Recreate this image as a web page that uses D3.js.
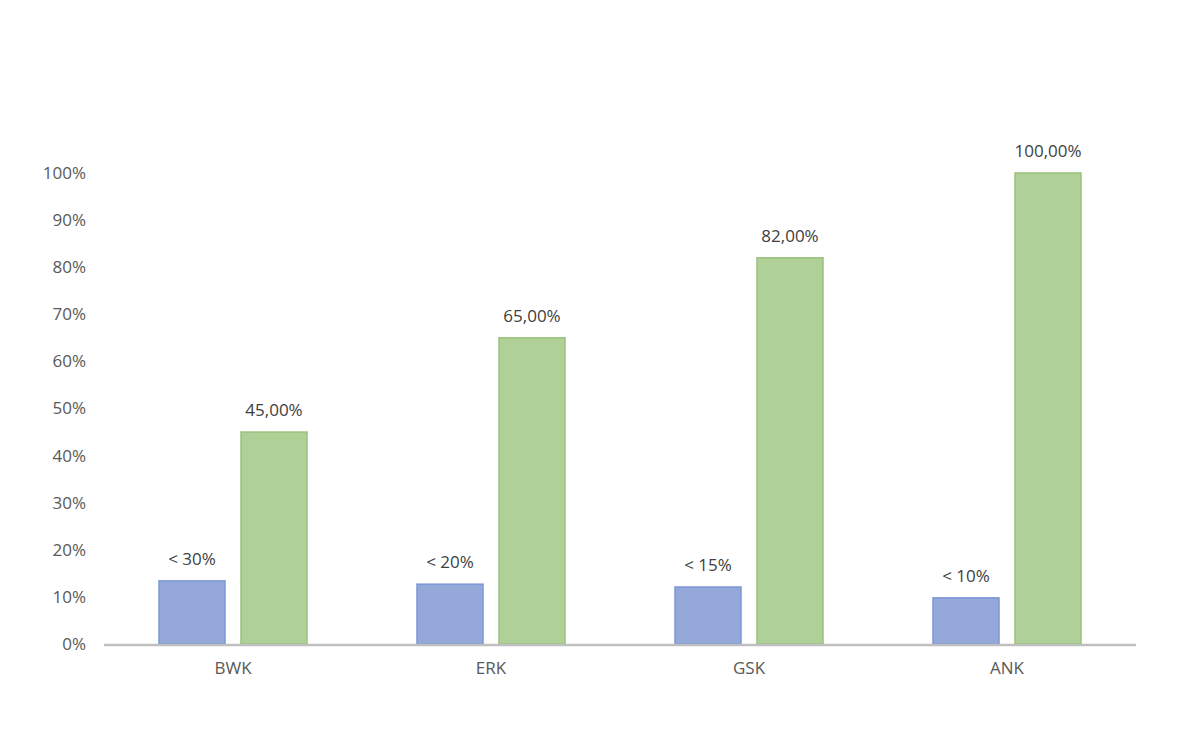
<!DOCTYPE html>
<html><head><meta charset="utf-8">
<script src="https://cdn.jsdelivr.net/npm/d3@7"></script>
<style>body{margin:0;background:#fff;font-family:"Open Sans",Calibri,sans-serif;}</style>
</head><body>
<div id="chart"></div>
<script>
const categories = ["BWK", "ERK", "GSK", "ANK"];
const blueValues = [13.4, 12.7, 12.1, 9.8];
const blueLabels = ["< 30%", "< 20%", "< 15%", "< 10%"];
const greenValues = [45, 65, 82, 100];
const greenLabels = ["45,00%", "65,00%", "82,00%", "100,00%"];
const yTicks = [0, 10, 20, 30, 40, 50, 60, 70, 80, 90, 100];

const W = 1181, H = 738;
const svg = d3.select("#chart").append("svg").attr("width", W).attr("height", H);

const x = d3.scaleBand().domain(categories).range([104, 1136]);
const y = d3.scaleLinear().domain([0, 100]).range([644, 173]);
const barW = 66, gap = 16;

// y labels
svg.append("g")
  .attr("transform", "translate(86,0)")
  .call(d3.axisLeft(y).tickValues(yTicks).tickFormat(d => d + "%").tickSize(0))
  .call(g => g.select(".domain").remove())
  .selectAll("text").attr("font-size", 17).attr("fill", "#595959")
  .attr("font-family", "'Open Sans', sans-serif").attr("x", 0);

// x labels
svg.append("g")
  .attr("transform", "translate(0,644)")
  .call(d3.axisBottom(x).tickSize(0).tickPadding(18))
  .call(g => g.select(".domain").remove())
  .selectAll("text").attr("font-size", 17).attr("fill", "#595959")
  .attr("font-family", "'Open Sans', sans-serif");

const cx = c => x(c) + x.bandwidth() / 2;

svg.selectAll(".blue").data(categories).enter().append("rect")
  .attr("x", c => cx(c) - gap / 2 - barW)
  .attr("y", (c, i) => y(blueValues[i]))
  .attr("width", barW)
  .attr("height", (c, i) => y(0) - y(blueValues[i]))
  .attr("fill", "#94a9d9").attr("stroke", "#7b97d6").attr("stroke-width", 1.5);

svg.selectAll(".green").data(categories).enter().append("rect")
  .attr("x", c => cx(c) + gap / 2)
  .attr("y", (c, i) => y(greenValues[i]))
  .attr("width", barW)
  .attr("height", (c, i) => y(0) - y(greenValues[i]))
  .attr("fill", "#afd096").attr("stroke", "#99c27c").attr("stroke-width", 1.5);

svg.selectAll(".bl").data(categories).enter().append("text")
  .attr("x", c => cx(c) - gap / 2 - barW / 2)
  .attr("y", (c, i) => y(blueValues[i]) - 16)
  .attr("text-anchor", "middle").attr("font-size", 17).attr("fill", "#404040")
  .text((c, i) => blueLabels[i]);

svg.selectAll(".gl").data(categories).enter().append("text")
  .attr("x", c => cx(c) + gap / 2 + barW / 2)
  .attr("y", (c, i) => y(greenValues[i]) - 16)
  .attr("text-anchor", "middle").attr("font-size", 17).attr("fill", "#404040")
  .text((c, i) => greenLabels[i]);

// baseline
svg.append("line").attr("x1", 104).attr("x2", 1136).attr("y1", 645).attr("y2", 645)
  .attr("stroke", "#bfbfbf").attr("stroke-width", 2.5);
</script>
</body></html>
